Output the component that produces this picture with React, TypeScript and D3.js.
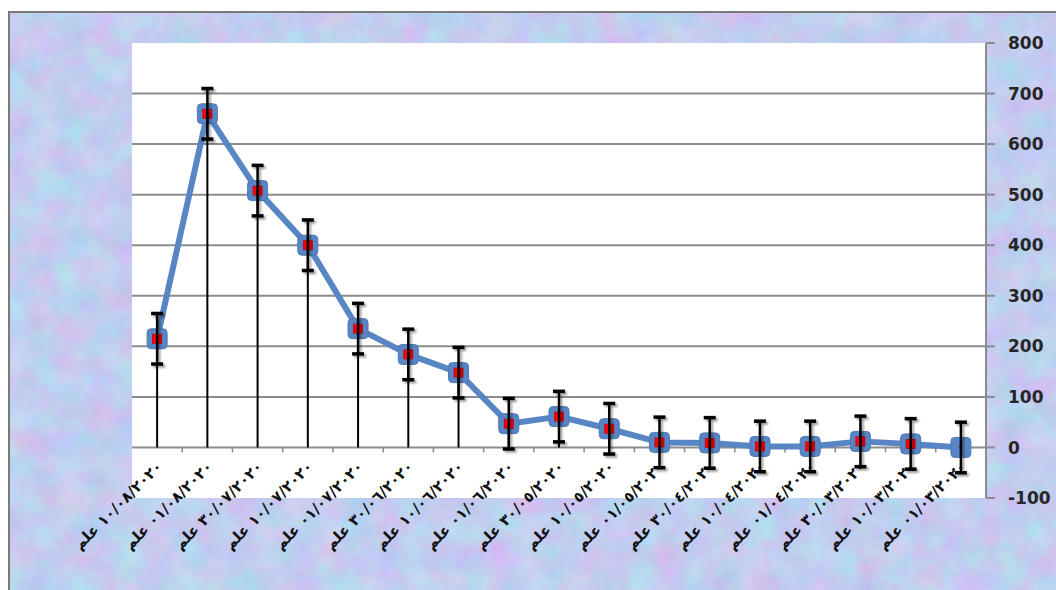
import React from "react";
import * as d3 from "d3";

const categories: string[] = [
  "١٠/٠٨/٢٠٢٠ علم",
  "٠١/٠٨/٢٠٢٠ علم",
  "٣٠/٠٧/٢٠٢٠ علم",
  "١٠/٠٧/٢٠٢٠ علم",
  "٠١/٠٧/٢٠٢٠ علم",
  "٣٠/٠٦/٢٠٢٠ علم",
  "١٠/٠٦/٢٠٢٠ علم",
  "٠١/٠٦/٢٠٢٠ علم",
  "٣٠/٠٥/٢٠٢٠ علم",
  "١٠/٠٥/٢٠٢٠ علم",
  "٠١/٠٥/٢٠٢٠ علم",
  "٣٠/٠٤/٢٠٢٠ علم",
  "١٠/٠٤/٢٠٢٠ علم",
  "٠١/٠٤/٢٠٢٠ علم",
  "٣٠/٠٣/٢٠٢٠ علم",
  "١٠/٠٣/٢٠٢٠ علم",
  "٠١/٠٣/٢٠٢٠ علم",
];

const values: number[] = [215, 660, 508, 400, 235, 184, 148, 47, 61, 37, 10, 9, 2, 2, 12, 7, 0];
const errorAmount = 50;
const yTicks: number[] = [-100, 0, 100, 200, 300, 400, 500, 600, 700, 800];

const W = 1056;
const H = 590;
const plot = { left: 132, right: 986, top: 43, bottom: 498 };

export default function App() {
  const x = d3.scaleBand<string>().domain(categories).range([plot.left, plot.right]).paddingInner(0).paddingOuter(0);
  const y = d3.scaleLinear().domain([-100, 800]).range([plot.bottom, plot.top]);
  const cx = (c: string) => (x(c) as number) + x.bandwidth() / 2;
  const y0 = y(0);

  const pts: [number, number][] = categories.map((c, i) => [cx(c), y(values[i])]);
  const line = d3.line<[number, number]>().x((d) => d[0]).y((d) => d[1]);

  const blue = "#5886c4";
  const capW = 12;

  return (
    <svg width={W} height={H} style={{ position: "absolute", left: 0, top: 0 }}>
      <defs>
        <filter id="tex" x="0" y="0" width="100%" height="100%" colorInterpolationFilters="sRGB">
          <feTurbulence type="fractalNoise" baseFrequency="0.035" numOctaves="4" seed="11" result="n" />
          <feColorMatrix
            in="n"
            type="matrix"
            values="0.22 0 0 0 0.65  -0.12 0.15 0 0 0.79  0 0 0.08 0 0.9  0 0 0 0 1"
          />
        </filter>
        <filter id="shadow" x="-50%" y="-50%" width="200%" height="200%">
          <feGaussianBlur in="SourceAlpha" stdDeviation="1.2" />
          <feOffset dx="2" dy="2" result="b" />
          <feComponentTransfer>
            <feFuncA type="linear" slope="0.4" />
          </feComponentTransfer>
          <feMerge>
            <feMergeNode />
            <feMergeNode in="SourceGraphic" />
          </feMerge>
        </filter>
      </defs>
      <rect x={0} y={0} width={W} height={H} fill="#ffffff" />
      <rect x={9} y={12} width={W} height={H} fill="#c3cdef" />
      <rect x={9} y={12} width={W} height={H} filter="url(#tex)" />
      <rect x={9} y={12} width={W + 10} height={H + 10} fill="none" stroke="#7a7a7a" strokeWidth={2} />

      {/* plot area */}
      <rect x={plot.left} y={plot.top} width={plot.right - plot.left} height={plot.bottom - plot.top} fill="#ffffff" />

      {/* gridlines */}
      {yTicks
        .filter((t) => t !== 0 && t !== -100 && t !== 800)
        .map((t) => (
          <line key={"g" + t} x1={plot.left} x2={plot.right} y1={y(t)} y2={y(t)} stroke="#8c8c8c" strokeWidth={2} />
        ))}

      {/* right axis */}
      <line x1={plot.right} x2={plot.right} y1={plot.top} y2={plot.bottom} stroke="#8c8c8c" strokeWidth={2} />
      {yTicks.map((t) => (
        <g key={"t" + t}>
          <line x1={plot.right} x2={plot.right + 9} y1={y(t)} y2={y(t)} stroke="#8c8c8c" strokeWidth={2} />
          <text
            x={1008}
            y={y(t)}
            dy="0.36em"
            fontFamily="DejaVu Sans"
            fontWeight="bold"
            fontSize={17}
            fill="#262626"
          >
            {t}
          </text>
        </g>
      ))}

      {/* x axis at zero */}
      <line x1={plot.left} x2={plot.right} y1={y0} y2={y0} stroke="#8c8c8c" strokeWidth={2} />
      {categories.slice(1).map((c) => (
        <line key={"xt" + c} x1={x(c)} x2={x(c)} y1={y0} y2={y0 + 5} stroke="#8c8c8c" strokeWidth={1.5} />
      ))}

      {/* x labels */}
      {categories.map((c) => (
        <text
          key={"xl" + c}
          transform={`translate(${cx(c) + 6},${y0 + 20}) rotate(-45)`}
          textAnchor="end"
          fontFamily="DejaVu Sans"
          fontWeight="bold"
          fontSize={15}
          fill="#111"
        >
          {c}
        </text>
      ))}

      {/* series line */}
      <path d={line(pts) || ""} fill="none" stroke={blue} strokeWidth={6} strokeLinejoin="round" />

      {/* markers */}
      {pts.map((p, i) => (
        <g key={"m" + i}>
          <rect x={p[0] - 10} y={p[1] - 10} width={20} height={20} rx={4} fill={blue} stroke="#4c79b6" strokeWidth={1} />
          {values[i] > 0 ? (
            <rect x={p[0] - 4.5} y={p[1] - 4.5} width={9} height={9} fill="#ff0000" stroke="#c00010" strokeWidth={0.8} />
          ) : (
            <line x1={p[0] - 2} x2={p[0] + 2} y1={p[1]} y2={p[1]} stroke="#333" strokeWidth={1.2} />
          )}
        </g>
      ))}

      {/* drop lines */}
      {pts.map((p, i) => (
        <line key={"d" + i} x1={p[0]} x2={p[0]} y1={p[1]} y2={y0} stroke="#000" strokeWidth={2} />
      ))}

      {/* error bars */}
      {pts.map((p, i) => {
        const top = y(values[i] + errorAmount);
        const bot = y(values[i] - errorAmount);
        return (
          <g key={"e" + i} filter="url(#shadow)">
            <line x1={p[0]} x2={p[0]} y1={top} y2={bot} stroke="#000" strokeWidth={2.5} />
            <line x1={p[0] - capW / 2} x2={p[0] + capW / 2} y1={top} y2={top} stroke="#000" strokeWidth={3.5} />
            <line x1={p[0] - capW / 2} x2={p[0] + capW / 2} y1={bot} y2={bot} stroke="#000" strokeWidth={3.5} />
          </g>
        );
      })}
    </svg>
  );
}
